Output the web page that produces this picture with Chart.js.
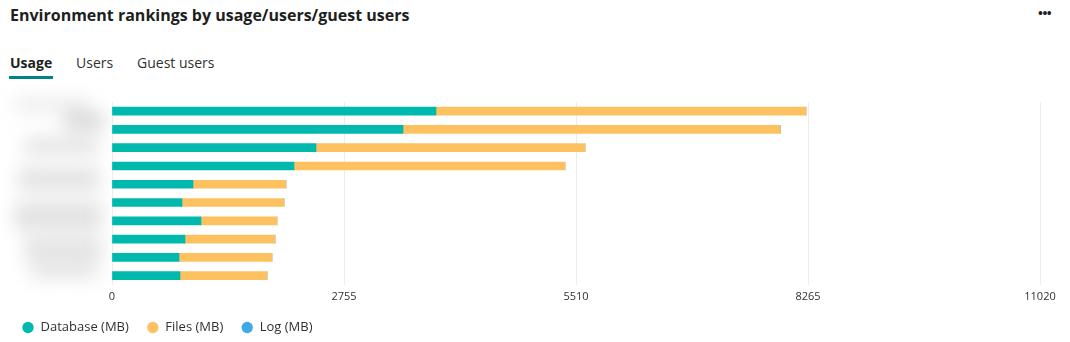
<!DOCTYPE html>
<html>
<head>
<meta charset="utf-8">
<script src="https://cdn.jsdelivr.net/npm/chart.js@4"></script>
<style>
  html, body { margin:0; padding:0; background:#fff; width:1070px; height:342px; overflow:hidden; font-family:"Open Sans", sans-serif; }
  #title { position:absolute; left:10px; top:4px; font-size:16px; font-weight:700; color:#201f1e; white-space:nowrap; letter-spacing:0px; }
  #more { position:absolute; left:1038px; top:4px; font-size:13px; font-weight:700; color:#201f1e; letter-spacing:-0.5px; }
  .tab { position:absolute; top:53px; font-size:14px; color:#323130; white-space:nowrap; }
  #tab1 { left:10px; font-weight:700; color:#201f1e; }
  #tab1:after { content:""; position:absolute; left:-1px; right:-1px; top:23px; height:3px; background:#038387; }
  #tab2 { left:76px; }
  #tab3 { left:137px; }
  #blur { position:absolute; left:6px; top:90px; width:104px; height:200px; filter:blur(9px); }
  #blur div { position:absolute; background:#e2e2e2; border-radius:4px; }
  #wrap { position:absolute; left:4px; top:88px; width:1066px; height:256px; }
</style>
</head>
<body>
<div id="title">Environment rankings by usage/users/guest users</div>
<div id="more">&#8226;&#8226;&#8226;</div>
<div class="tab" id="tab1">Usage</div>
<div class="tab" id="tab2">Users</div>
<div class="tab" id="tab3">Guest users</div>
<div id="blur">
  <div style="left:8px;top:8px;width:75px;height:14px;background:#ececec"></div>
  <div style="left:58px;top:22px;width:40px;height:18px;background:#d8d8d8"></div>
  <div style="left:18px;top:48px;width:75px;height:16px"></div>
  <div style="left:12px;top:78px;width:82px;height:22px"></div>
  <div style="left:8px;top:112px;width:88px;height:28px"></div>
  <div style="left:18px;top:148px;width:78px;height:22px"></div>
  <div style="left:24px;top:174px;width:68px;height:14px"></div>
</div>
<div id="wrap"><canvas id="c" width="1066" height="256"></canvas></div>
<script>
const categories = ["Env 1","Env 2","Env 3","Env 4","Env 5","Env 6","Env 7","Env 8","Env 9","Env 10"];
const databaseMB = [3847, 3456, 2422, 2161, 962, 831, 1057, 867, 796, 807];
const filesMB    = [4394, 4480, 3195, 3218, 1104, 1212, 902, 1069, 1104, 1034];
const logMB      = [0, 0, 0, 0, 0, 0, 0, 0, 0, 0];
const xTicks     = [0, 2755, 5510, 8265, 11020];
const seriesNames = ["Database (MB)", "Files (MB)", "Log (MB)"];

new Chart(document.getElementById('c'), {
  type: 'bar',
  data: {
    labels: categories,
    datasets: [
      { label: seriesNames[0], data: databaseMB, backgroundColor: '#00b9ae', barThickness: 8 },
      { label: seriesNames[1], data: filesMB, backgroundColor: '#fdc25f', barThickness: 8 },
      { label: seriesNames[2], data: logMB, backgroundColor: '#3fa9e6', barThickness: 8 }
    ]
  },
  options: {
    indexAxis: 'y',
    responsive: false,
    animation: false,
    layout: { padding: { top: 14, right: 30, left: 0, bottom: 0 } },
    scales: {
      x: {
        stacked: true,
        min: 0, max: xTicks[xTicks.length - 1],
        afterBuildTicks: (axis) => { axis.ticks = xTicks.map(v => ({ value: v })); },
        afterFit: (axis) => { axis.height -= 5; },
        ticks: { color: '#323130', font: { family: 'Open Sans', size: 11 }, padding: 5, maxRotation: 0,
                 callback: (v) => String(v) },
        grid: { color: '#ececec', lineWidth: 1, drawTicks: false },
        border: { display: false }
      },
      y: {
        stacked: true,
        ticks: { display: false },
        grid: { display: false },
        border: { display: false },
        afterFit: (axis) => { axis.width = 108; }
      }
    },
    plugins: {
      legend: {
        position: 'bottom',
        align: 'start',
        labels: {
          usePointStyle: true, pointStyle: 'circle', boxWidth: 12, boxHeight: 8,
          color: '#323130', font: { family: 'Open Sans', size: 13 }, padding: 18
        }
      },
      tooltip: { enabled: false }
    }
  }
});
</script>
</body>
</html>
